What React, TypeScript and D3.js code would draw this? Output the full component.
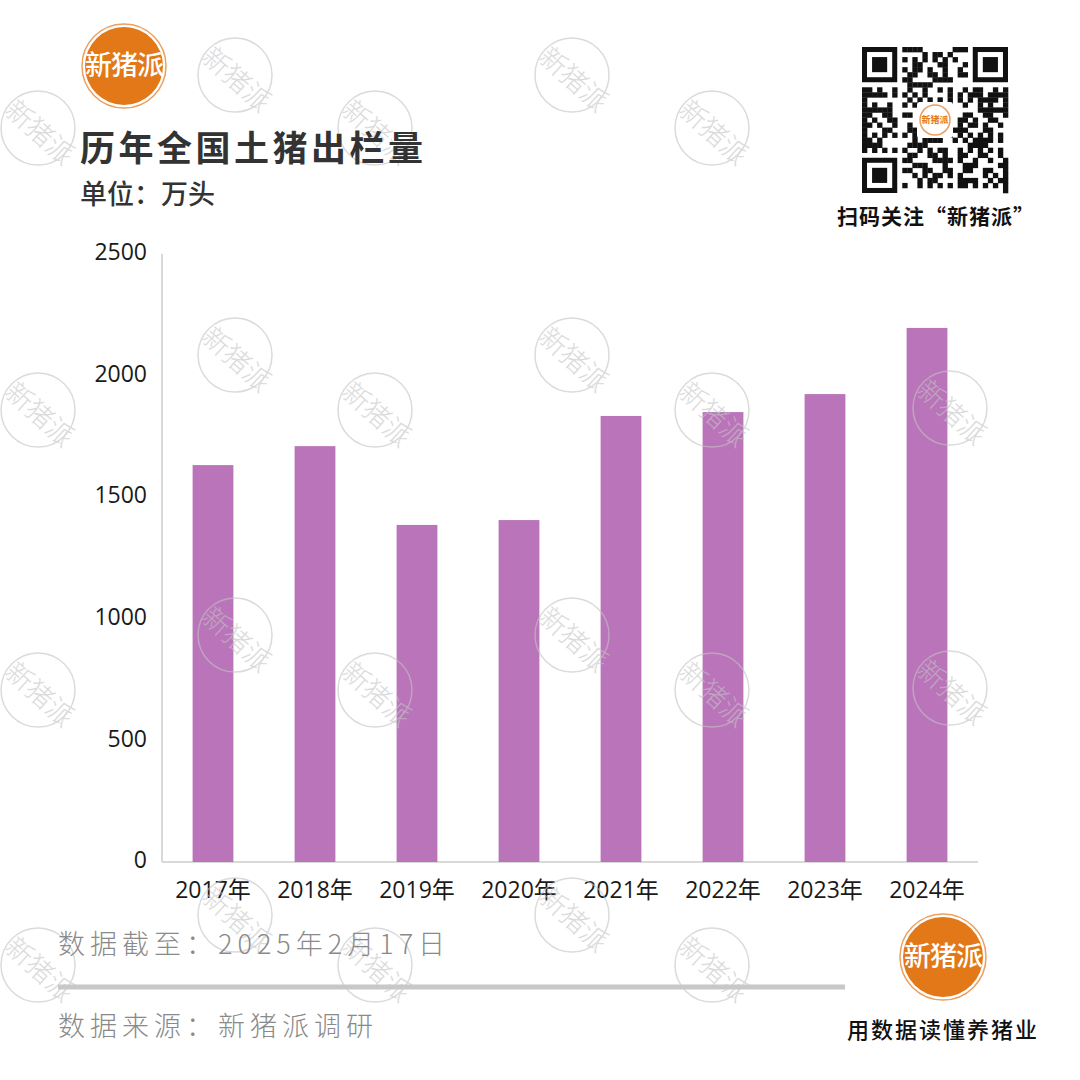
import React from "react";
import * as d3 from "d3";

const years = ["2017年", "2018年", "2019年", "2020年", "2021年", "2022年", "2023年", "2024年"];
const output = [1632, 1710, 1386, 1406, 1834, 1850, 1924, 2196];
const yTicks = [0, 500, 1000, 1500, 2000, 2500];

const title = "历年全国土猪出栏量";
const unit = "单位：万头";
const cutoff = "数据截至：2025年2月17日";
const source = "数据来源：新猪派调研";
const brand = "新猪派";
const qrCaption = "扫码关注“新猪派”";
const slogan = "用数据读懂养猪业";

const watermarks: [number, number][] = [
  [235, 75], [38, 128], [375, 128], [572, 75], [712, 128],
  [235, 355], [38, 410], [375, 410], [572, 355], [712, 410], [950, 408],
  [235, 635], [38, 690], [375, 690], [572, 635], [712, 690], [950, 688],
  [235, 915], [38, 965], [375, 965], [572, 915], [712, 965],
];

const CJK = "'Noto Sans CJK SC', 'Noto Sans', sans-serif";
const NUM = "'Open Sans', 'Noto Sans', sans-serif";

function Logo({ cx, cy, r }: { cx: number; cy: number; r: number }) {
  return (
    <g>
      <circle cx={cx} cy={cy} r={r} fill="#fff" stroke="#E9A060" strokeWidth={1.5} />
      <circle cx={cx} cy={cy} r={r - 3} fill="#E27818" />
      <text x={cx} y={cy + 2} textAnchor="middle" dominantBaseline="middle" fill="#fff"
        fontFamily={CJK} fontWeight={500} fontSize={27} letterSpacing={-1}>{brand}</text>
    </g>
  );
}

function QR({ x, y, size }: { x: number; y: number; size: number }) {
  const n = 29;
  const m = size / n;
  const cells: JSX.Element[] = [];
  const inFinder = (i: number, j: number) =>
    (i < 8 && j < 8) || (i < 8 && j >= n - 8) || (i >= n - 8 && j < 8);
  for (let i = 0; i < n; i++) {
    for (let j = 0; j < n; j++) {
      if (inFinder(i, j)) continue;
      const h = ((i * 37 + j * 91 + i * j * 13 + ((i ^ j) * 7)) % 11);
      if (h < 5) cells.push(<rect key={i + "-" + j} x={x + j * m} y={y + i * m} width={m + 0.3} height={m + 0.3} fill="#111" />);
    }
  }
  const finder = (fi: number, fj: number) => (
    <g key={"f" + fi + fj}>
      <rect x={x + fj * m} y={y + fi * m} width={7 * m} height={7 * m} fill="#111" />
      <rect x={x + (fj + 1) * m} y={y + (fi + 1) * m} width={5 * m} height={5 * m} fill="#fff" />
      <rect x={x + (fj + 2) * m} y={y + (fi + 2) * m} width={3 * m} height={3 * m} fill="#111" />
    </g>
  );
  const c = x + size / 2;
  const cy = y + size / 2;
  return (
    <g>
      <rect x={x} y={y} width={size} height={size} fill="#fff" />
      {cells}
      {finder(0, 0)}
      {finder(0, n - 7)}
      {finder(n - 7, 0)}
      <rect x={c - 18} y={cy - 18} width={36} height={36} fill="#fff" rx={3} />
      <circle cx={c} cy={cy} r={15} fill="#fff" stroke="#E9A060" strokeWidth={1.5} />
      <text x={c} y={cy + 1} textAnchor="middle" dominantBaseline="middle" fill="#E27818"
        fontFamily={CJK} fontSize={9} fontWeight={700}>{brand}</text>
    </g>
  );
}

function Watermark({ cx, cy }: { cx: number; cy: number }) {
  return (
    <g transform={`translate(${cx},${cy})`} opacity={0.6}>
      <circle r={37} fill="none" stroke="#c4c4c4" strokeWidth={1.5} />
      <g transform="translate(3,3) rotate(42)">
        <text x={0} y={0} textAnchor="middle" dominantBaseline="central"
          fill="#c4c4c4" fontFamily={CJK} fontWeight={300} fontSize={27}>{brand}</text>
      </g>
    </g>
  );
}

export default function App() {
  const left = 162, right = 978, top = 254, bottom = 862;
  const x = d3.scaleBand<string>().domain(years).range([left, right]).paddingInner(0.6).paddingOuter(0.3);
  const y = d3.scaleLinear().domain([0, 2500]).range([bottom, top]);

  return (
    <div style={{ position: "fixed", left: 0, top: 0, width: 1080, height: 1080, background: "#fff" }}>
      <svg width={1080} height={1080} viewBox="0 0 1080 1080">
        <rect width={1080} height={1080} fill="#fff" />

        {/* axes */}
        <line x1={left} x2={left} y1={top} y2={bottom} stroke="#d9d9d9" strokeWidth={2} />
        <line x1={left} x2={right} y1={bottom} y2={bottom} stroke="#d9d9d9" strokeWidth={2} />
        {yTicks.map((t) => (
          <text key={t} x={147} y={y(t)} textAnchor="end" dominantBaseline="middle"
            fontFamily={NUM} fontSize={23} fill="#1a1a1a">{t}</text>
        ))}

        {/* bars */}
        {years.map((yr, i) => (
          <rect key={yr} x={x(yr)} y={y(output[i])} width={x.bandwidth()} height={bottom - y(output[i])} fill="#BA74BA" />
        ))}
        {years.map((yr) => (
          <text key={yr} x={(x(yr) as number) + x.bandwidth() / 2} y={892} textAnchor="middle" dominantBaseline="middle"
            fontFamily={NUM} fontSize={23} fill="#1a1a1a">
            {yr.slice(0, 4)}<tspan fontFamily={CJK}>{yr.slice(4)}</tspan>
          </text>
        ))}

        {/* watermarks */}
        {watermarks.map(([cx, cy], i) => <Watermark key={i} cx={cx} cy={cy} />)}

        {/* header */}
        <Logo cx={124} cy={66} r={42} />
        <text x={80} y={161} fontFamily={CJK} fontWeight={700} fontSize={35} letterSpacing={3.5} fill="#333">{title}</text>
        <text x={80} y={204} fontFamily={CJK} fontWeight={500} fontSize={27} fill="#333">{unit}</text>

        <QR x={862} y={47} size={146} />
        <text x={936} y={224} textAnchor="middle" fontFamily={CJK} fontWeight={700} fontSize={21} letterSpacing={1} fill="#111">{qrCaption}</text>

        {/* footer */}
        <text x={58} y={954} fontFamily={CJK} fontWeight={300} fontSize={27} letterSpacing={5} fill="#8a8a8a">{cutoff}</text>
        <line x1={58} x2={845} y1={987} y2={987} stroke="#c8c8c8" strokeWidth={5} />
        <text x={58} y={1036} fontFamily={CJK} fontWeight={300} fontSize={27} letterSpacing={5} fill="#8a8a8a">{source}</text>

        <Logo cx={943} cy={957} r={43} />
        <text x={943} y={1038} textAnchor="middle" fontFamily={CJK} fontWeight={500} fontSize={22} letterSpacing={2} fill="#111">{slogan}</text>
      </svg>
    </div>
  );
}
